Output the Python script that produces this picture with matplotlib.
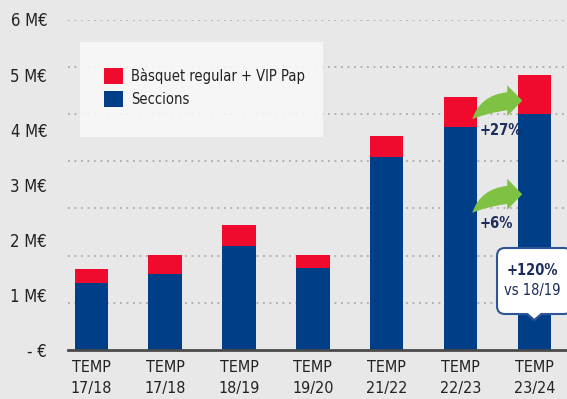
import numpy as np
import matplotlib
matplotlib.use("Agg")
import matplotlib.pyplot as plt
from matplotlib import font_manager
from matplotlib.path import Path
from matplotlib.patches import PathPatch, Patch, Rectangle
from matplotlib.transforms import Affine2D, ScaledTranslation

# ---- data (M€) ----
seasons = ["17/18", "17/18", "18/19", "19/20", "21/22", "22/23", "23/24"]
seccions = [1.22, 1.38, 1.88, 1.49, 3.50, 4.04, 4.29]
basquet_vip = [0.25, 0.34, 0.39, 0.23, 0.39, 0.56, 0.71]
ytick_values = [0, 1, 2, 3, 4, 5, 6]
ytick_labels = ["- €", "1 M€", "2 M€", "3 M€", "4 M€", "5 M€", "6 M€"]
growth_labels = ["+27%", "+6%"]
callout_main = "+120%"
callout_sub = "vs 18/19"

# ---- style ----
BG = "#e8e8e8"
RED = "#f00a2e"
BLUE = "#003f88"
NAVY = "#1c2c5c"
GREEN = "#7fc143"
TXT = "#222222"

# pick the narrowest sans face that is installed
fonts = font_manager.fontManager.ttflist
names = {f.name for f in fonts}
STRETCH = "normal"
if "Liberation Sans Narrow" in names:
    FAMILY = "Liberation Sans Narrow"
elif any(f.name == "DejaVu Sans" and f.stretch == "condensed" for f in fonts):
    FAMILY, STRETCH = "DejaVu Sans", "condensed"
elif "Roboto Condensed" in names:
    FAMILY = "Roboto Condensed"
else:
    FAMILY = "Liberation Sans"
plt.rcParams["font.family"] = [FAMILY, "DejaVu Sans"]
plt.rcParams["font.stretch"] = STRETCH
FS = 11.5

W, H, DPI = 567, 399, 100
fig = plt.figure(figsize=(W / DPI, H / DPI), dpi=DPI, facecolor=BG)
ax = fig.add_axes([68 / W, 49 / H, 1 - 68 / W, (350 - 19.5) / H])
ax.set_facecolor(BG)

x = np.arange(len(seasons))
width = 0.455
ax.bar(x, seccions, width, color=BLUE, label="Seccions", zorder=3)
ax.bar(x, basquet_vip, width, bottom=seccions, color=RED,
       label="Bàsquet regular + VIP Pap", zorder=3)

ax.set_xlim(-0.318, 6.443)
ax.set_ylim(0, 6)

# dotted guide lines (7 equal bands)
for g in np.arange(1, 8) * 6 / 7:
    ax.axhline(g, color="#ababab", lw=1.3, ls=(0, (1, 2.6)), zorder=1)

for s in ["top", "right", "left"]:
    ax.spines[s].set_visible(False)
ax.spines["bottom"].set_color("#4a4a4a")
ax.spines["bottom"].set_linewidth(2)
ax.spines["bottom"].set_zorder(4)

ax.set_yticks(ytick_values)
ax.set_yticklabels(ytick_labels)
ax.set_xticks(x)
ax.set_xticklabels([f"TEMP\n{s}" for s in seasons], linespacing=1.5)
ax.tick_params(axis="y", length=0, pad=15, labelsize=FS + 0.5, labelcolor=TXT)
ax.tick_params(axis="x", length=0, pad=7, labelsize=FS, labelcolor=TXT)

# legend panel and entries (red entry first)
fig.add_artist(Rectangle((80 / W, 1 - 136.7 / H), (323 - 80) / W, 95 / H,
                         transform=fig.transFigure, facecolor="#f9f9f9", alpha=0.88,
                         edgecolor="none", zorder=4))
handles = [Patch(facecolor=RED, edgecolor="none"), Patch(facecolor=BLUE, edgecolor="none")]
labels = ["Bàsquet regular + VIP Pap", "Seccions"]
LFS = 10.5
leg = fig.legend(handles, labels, loc="upper left",
                 bbox_to_anchor=(104 / W, 1 - 67.5 / H), bbox_transform=fig.transFigure,
                 fontsize=LFS, handlelength=1.3, handleheight=1.3, handletextpad=0.55,
                 labelspacing=0.5, borderpad=0, borderaxespad=0, frameon=False)
for t in leg.get_texts():
    t.set_color(TXT)
leg.set_zorder(5)


def px_transform(xd, yd):
    """Shape coordinates in pixels, anchored at a data point."""
    return Affine2D().scale(1 / DPI) + fig.dpi_scale_trans + ScaledTranslation(xd, yd, ax.transData)


# green growth arrows between the last two seasons
arrow_verts = [(0, 0), (8, 24), (35, 27), (35, 34), (50, 18.6), (35, 3), (35, 9),
               (14, 6), (0, 0), (0, 0)]
arrow_codes = [Path.MOVETO, Path.CURVE3, Path.CURVE3, Path.LINETO, Path.LINETO,
               Path.LINETO, Path.LINETO, Path.CURVE3, Path.CURVE3, Path.CLOSEPOLY]
arrow_path = Path(arrow_verts, arrow_codes)
for ya in (4.19, 2.49):
    ax.add_patch(PathPatch(arrow_path, facecolor=GREEN, edgecolor="none",
                           transform=px_transform(5.159, ya), zorder=6, clip_on=False))

GS = 10.5
ax.text(5.257, 3.98, growth_labels[0], color=NAVY, fontsize=GS, fontweight="bold",
        ha="left", va="center", zorder=6)
ax.text(5.257, 2.30, growth_labels[1], color=NAVY, fontsize=GS, fontweight="bold",
        ha="left", va="center", zorder=6)

# callout above the last bar
L, R, T, B, r, pw, tip = -37.3, 37.5, 102, 36, 8, 7, 30
call_verts = [(pw, B), (R - r, B), (R, B), (R, B + r), (R, T - r), (R, T), (R - r, T),
              (L + r, T), (L, T), (L, T - r), (L, B + r), (L, B), (L + r, B),
              (-pw, B), (0, tip), (pw, B)]
call_codes = [Path.MOVETO, Path.LINETO, Path.CURVE3, Path.CURVE3, Path.LINETO,
              Path.CURVE3, Path.CURVE3, Path.LINETO, Path.CURVE3, Path.CURVE3,
              Path.LINETO, Path.CURVE3, Path.CURVE3, Path.LINETO, Path.LINETO,
              Path.CLOSEPOLY]
ax.add_patch(PathPatch(Path(call_verts, call_codes), facecolor="white", edgecolor="#2d5597",
                       lw=1.5, transform=px_transform(6, 0), zorder=7, clip_on=False))
ax.annotate(callout_main, xy=(6, 0), xytext=(-1.5, 79.5 * 0.72), textcoords="offset points",
            ha="center", va="center", color=NAVY, fontsize=10.5, fontweight="bold",
            zorder=8, annotation_clip=False)
ax.annotate(callout_sub, xy=(6, 0), xytext=(-1.5, 60 * 0.72), textcoords="offset points",
            ha="center", va="center", color=NAVY, fontsize=10.5, zorder=8,
            annotation_clip=False)

fig.savefig("out.png", dpi=DPI, facecolor=BG)
